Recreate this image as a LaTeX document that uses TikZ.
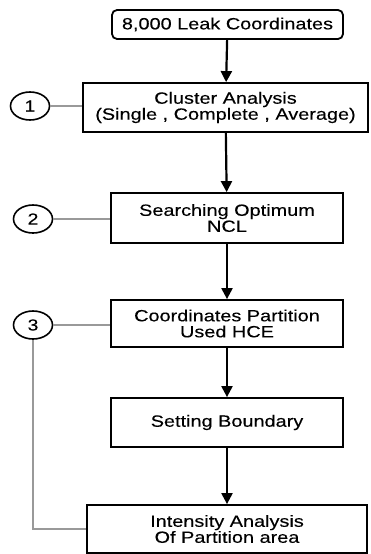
\documentclass[tikz,border=0pt]{standalone}
\usepackage{fontspec}
\setmainfont[FakeStretch=1.22,FakeBold=0.2]{Liberation Sans}
\usetikzlibrary{shapes.geometric,arrows.meta}
\tikzset{
  stepbox/.style = {draw,line width=1.8pt,align=center,inner sep=0pt,
    font=\fontsize{16.3}{16}\selectfont},
  marker/.style = {draw,ellipse,line width=1.6pt,minimum width=39pt,
    minimum height=28pt,inner sep=0pt,font=\fontsize{16}{16}\selectfont},
  flow/.style = {line width=2.2pt,-{Triangle[length=11pt,width=11pt]}},
  link/.style = {black!40,line width=1.1pt}
}

\begin{document}
\begin{tikzpicture}[x=1pt,y=-1pt]
  \useasboundingbox (0,0) rectangle (370,554);
  % steps
  \node[stepbox,rounded corners=5pt,minimum width=231pt,minimum height=29pt] (leak) at (227.5,24.5) {8,000 Leak Coordinates};
  \node[stepbox,minimum width=285pt,minimum height=49pt] (cluster) at (225.5,107.5) {Cluster Analysis\\(Single , Complete , Average)};
  \node[stepbox,minimum width=232pt,minimum height=50pt] (search) at (227,218) {Searching Optimum\\NCL};
  \node[stepbox,minimum width=232pt,minimum height=47pt] (partition) at (227,323.5) {Coordinates Partition\\Used HCE};
  \node[stepbox,minimum width=232pt,minimum height=49pt] (boundary) at (227,422.5) {Setting Boundary};
  \node[stepbox,minimum width=280pt,minimum height=48pt] (intensity) at (227,529) {Intensity Analysis\\Of Partition area};
  % markers
  \node[marker] (m1) at (30,106) {1};
  \node[marker] (m2) at (33,219) {2};
  \node[marker] (m3) at (33,325) {3};
  % flow
  \draw[flow] (leak) -- (cluster);
  \draw[flow] (cluster) -- (search);
  \draw[flow] (search) -- (partition);
  \draw[flow] (partition) -- (boundary);
  \draw[flow] (boundary) -- (intensity);
  % links
  \draw[link] (m1.east) -- (m1.east -| cluster.west);
  \draw[link] (m2.east) -- (m2.east -| search.west);
  \draw[link] (m3.east) -- (m3.east -| partition.west);
  \draw[link] (m3.south) |- (intensity.west);
\end{tikzpicture}
\end{document}
